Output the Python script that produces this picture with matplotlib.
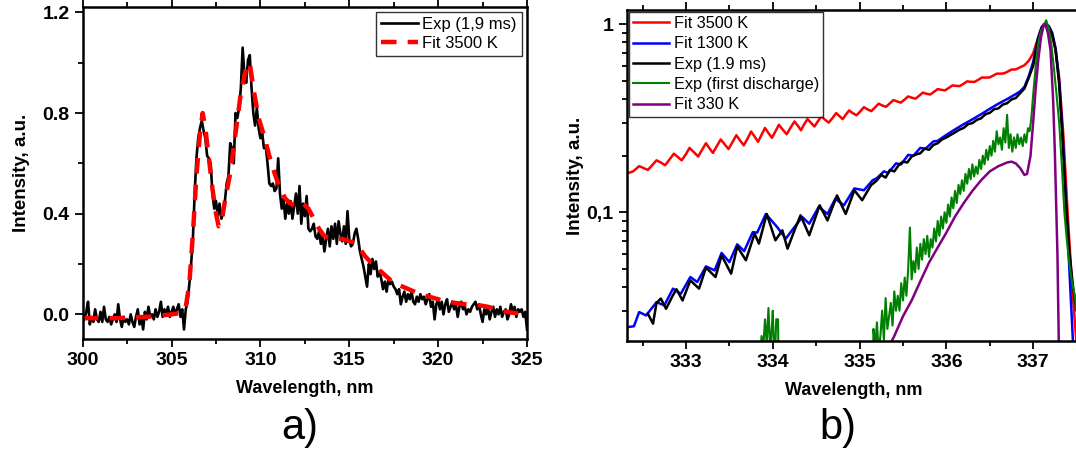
import numpy as np
import matplotlib
matplotlib.use("Agg")
import matplotlib.pyplot as plt
from matplotlib.ticker import MultipleLocator, LogLocator, FixedLocator, FixedFormatter, NullFormatter

plt.rcParams['font.family'] = ['Liberation Sans', 'DejaVu Sans']

# ---- panel a) data ----
exp_a_wl = np.linspace(300, 325, 251)
exp_a_int = [
    0.00, -0.02, 0.01, 0.05, -0.04, -0.01, -0.03, 0.02, -0.02, -0.03,
    0.01, -0.03, 0.03, -0.02, -0.03, -0.01, -0.04, -0.02, 0.00, -0.03,
    0.04, -0.02, -0.05, -0.01, -0.03, -0.02, -0.04, 0.00, -0.03, -0.05,
    -0.01, 0.02, -0.04, -0.01, -0.06, 0.01, -0.02, 0.03, -0.01, 0.00,
    -0.02, 0.02, -0.01, 0.01, 0.05, -0.01, 0.02, 0.00, 0.03, -0.01,
    0.01, 0.03, 0.00, 0.02, 0.04, -0.01, 0.02, -0.06, 0.02, 0.05,
    0.12, 0.20, 0.30, 0.48, 0.62, 0.70, 0.74, 0.77, 0.73, 0.70,
    0.63, 0.62, 0.60, 0.48, 0.42, 0.45, 0.39, 0.44, 0.38, 0.40,
    0.45, 0.52, 0.55, 0.68, 0.66, 0.60, 0.80, 0.78, 0.82, 0.90,
    1.06, 0.95, 0.92, 1.01, 1.03, 0.90, 0.80, 0.75, 0.82, 0.74,
    0.70, 0.72, 0.66, 0.67, 0.60, 0.52, 0.51, 0.52, 0.49, 0.50,
    0.62, 0.48, 0.42, 0.46, 0.38, 0.44, 0.40, 0.45, 0.38, 0.43,
    0.48, 0.40, 0.51, 0.36, 0.44, 0.39, 0.47, 0.34, 0.33, 0.34,
    0.36, 0.31, 0.30, 0.33, 0.28, 0.31, 0.25, 0.30, 0.34, 0.27,
    0.35, 0.30, 0.36, 0.28, 0.37, 0.32, 0.29, 0.35, 0.28, 0.41,
    0.30, 0.27, 0.28, 0.32, 0.34, 0.30, 0.25, 0.22, 0.19, 0.15,
    0.11, 0.20, 0.16, 0.22, 0.18, 0.21, 0.15, 0.17, 0.14, 0.10,
    0.13, 0.09, 0.14, 0.12, 0.13, 0.11, 0.10, 0.08, 0.10, 0.04,
    0.07, 0.09, 0.05, 0.08, 0.06, 0.09, 0.05, 0.04, 0.07, 0.05,
    0.08, 0.06, 0.07, 0.04, 0.06, 0.08, 0.03, 0.05, -0.02, 0.04,
    0.06, 0.02, 0.05, 0.00, 0.04, 0.06, 0.01, 0.03, 0.05, 0.02,
    0.04, -0.01, 0.03, 0.05, 0.02, 0.03, 0.00, 0.02, 0.01, 0.03,
    0.04, 0.05, 0.02, 0.04, 0.00, -0.03, 0.02, 0.00, 0.03, -0.02,
    0.01, 0.03, -0.01, 0.02, 0.00, 0.03, -0.01, 0.01, 0.02, -0.02,
    0.00, 0.04, 0.01, 0.03, -0.01, 0.02, 0.01, 0.02, -0.01, 0.01,
    -0.06,
]

fit_a_wl = [300, 301, 302, 303, 304, 305, 305.5, 305.8, 306.0, 306.2, 306.4, 306.6,
            306.75, 306.9, 307.1, 307.3, 307.5, 307.65, 307.8, 308.0, 308.3, 308.6,
            308.9, 309.2, 309.4, 309.6, 309.9, 310.2, 310.5, 310.8, 311.1, 311.4,
            311.7, 311.9, 312.1, 312.4, 312.7, 313.0, 313.3, 313.6, 313.9, 314.2,
            314.6, 315.0, 315.3, 315.6, 315.9, 316.3, 316.7, 317.1, 317.5, 318.0,
            318.5, 319.0, 319.5, 320.0, 320.5, 321.0, 321.5, 322.0, 322.4, 322.8,
            323.2, 323.6, 324.0, 324.5]
fit_a_int = [-0.015, -0.016, -0.015, -0.012, -0.008, 0.0, 0.005, 0.03, 0.12, 0.32, 0.55, 0.72,
             0.80, 0.74, 0.62, 0.50, 0.40, 0.35, 0.36, 0.45, 0.56, 0.72,
             0.88, 0.98, 1.0, 0.90, 0.78, 0.71, 0.63, 0.56, 0.50, 0.46,
             0.44, 0.43, 0.44, 0.44, 0.42, 0.38, 0.34, 0.31, 0.305, 0.30,
             0.30, 0.29, 0.285, 0.26, 0.23, 0.20, 0.175, 0.15, 0.125, 0.11,
             0.095, 0.08, 0.07, 0.06, 0.05, 0.045, 0.04, 0.038, 0.035, 0.03,
             0.022, 0.014, 0.008, 0.004]

# ---- panel b) data ----
fit3500_wl = [332.32, 332.39, 332.46, 332.51, 332.56, 332.61, 332.66, 332.71, 332.76, 332.81,
              332.86, 332.905, 332.95, 333.0, 333.04, 333.09, 333.14, 333.185, 333.23, 333.27,
              333.31, 333.355, 333.40, 333.445, 333.49, 333.535, 333.58, 333.62, 333.665, 333.71,
              333.75, 333.79, 333.83, 333.87, 333.91, 333.95, 333.99, 334.03, 334.07, 334.115,
              334.16, 334.205, 334.25, 334.29, 334.325, 334.36, 334.40, 334.44, 334.48, 334.52,
              334.56, 334.60, 334.645, 334.69, 334.73, 334.77, 334.805, 334.84, 334.88, 334.92,
              334.965, 335.01, 335.05, 335.09, 335.135, 335.18, 335.22, 335.26, 335.305, 335.35,
              335.39, 335.43, 335.475, 335.52, 335.56, 335.60, 335.645, 335.69, 335.73, 335.77,
              335.815, 335.86, 335.90, 335.94, 335.985, 336.03, 336.07, 336.11, 336.155, 336.2,
              336.24, 336.28, 336.325, 336.37, 336.41, 336.45, 336.495, 336.54, 336.58, 336.62,
              336.665, 336.71, 336.75, 336.80, 336.85, 336.90, 336.95, 337.0, 337.04, 337.08,
              337.12, 337.16, 337.2, 337.25, 337.3, 337.35, 337.4, 337.45, 337.5, 337.55]
fit3500_int = [0.161, 0.165, 0.176, 0.172, 0.168, 0.178, 0.189, 0.184, 0.178, 0.191,
               0.205, 0.197, 0.189, 0.204, 0.220, 0.209, 0.198, 0.215, 0.233, 0.219,
               0.207, 0.225, 0.244, 0.230, 0.217, 0.236, 0.257, 0.242, 0.227, 0.247,
               0.269, 0.253, 0.237, 0.258, 0.281, 0.264, 0.249, 0.269, 0.292, 0.275,
               0.260, 0.282, 0.304, 0.288, 0.273, 0.293, 0.313, 0.299, 0.286, 0.305,
               0.324, 0.311, 0.300, 0.318, 0.337, 0.324, 0.313, 0.330, 0.348, 0.337,
               0.328, 0.345, 0.362, 0.353, 0.345, 0.362, 0.378, 0.370, 0.364, 0.380,
               0.395, 0.389, 0.383, 0.398, 0.413, 0.407, 0.402, 0.418, 0.433, 0.427,
               0.423, 0.438, 0.452, 0.448, 0.445, 0.459, 0.473, 0.470, 0.469, 0.483,
               0.497, 0.494, 0.494, 0.507, 0.521, 0.520, 0.521, 0.533, 0.546, 0.546,
               0.548, 0.561, 0.574, 0.575, 0.590, 0.605, 0.640, 0.700, 0.800, 0.920,
               1.0, 0.99, 0.93, 0.77, 0.52, 0.25, 0.095, 0.04, 0.02, 0.01]

fit1300_wl = [332.32, 332.40, 332.46, 332.54, 332.66, 332.75, 332.85, 332.94, 333.05, 333.13,
              333.23, 333.33, 333.41, 333.5, 333.59, 333.67, 333.77, 333.82, 333.92, 334.05,
              334.15, 334.25, 334.34, 334.42, 334.53, 334.63, 334.72, 334.82, 334.94, 335.05,
              335.15, 335.2, 335.28, 335.33, 335.42, 335.48, 335.56, 335.62, 335.7, 335.76,
              335.85, 335.9, 336.0, 336.1, 336.2, 336.3, 336.4, 336.5, 336.6, 336.7,
              336.8, 336.85, 336.9, 336.95, 337.0, 337.05, 337.1, 337.14, 337.18, 337.22,
              337.26, 337.3, 337.34, 337.38, 337.42, 337.46, 337.5]
fit1300_int = [0.0245, 0.0248, 0.0295, 0.0283, 0.0333, 0.032, 0.0393, 0.0369, 0.0453, 0.0426,
               0.0516, 0.0491, 0.0608, 0.0544, 0.0676, 0.0622, 0.0785, 0.078, 0.098, 0.0835,
               0.0725, 0.0835, 0.0944, 0.087, 0.107, 0.098, 0.118, 0.109, 0.134, 0.131,
               0.148, 0.152, 0.165, 0.162, 0.182, 0.180, 0.202, 0.200, 0.220, 0.218,
               0.238, 0.240, 0.258, 0.276, 0.294, 0.312, 0.332, 0.355, 0.378, 0.400,
               0.425, 0.440, 0.465, 0.530, 0.630, 0.820, 0.970, 1.0, 0.98, 0.90,
               0.74, 0.50, 0.26, 0.11, 0.047, 0.02, 0.01]

exp19_wl = [332.56, 332.62, 332.66, 332.71, 332.77, 332.85, 332.89, 332.96, 333.05, 333.15,
            333.23, 333.34, 333.41, 333.52, 333.59, 333.69, 333.79, 333.84, 333.93, 334.03,
            334.11, 334.17, 334.25, 334.32, 334.42, 334.54, 334.63, 334.74, 334.84, 334.94,
            335.03, 335.13, 335.2, 335.25, 335.3, 335.35, 335.4, 335.45, 335.5, 335.55,
            335.6, 335.65, 335.7, 335.75, 335.8, 335.85, 335.9, 335.95, 336.0, 336.05,
            336.1, 336.15, 336.2, 336.25, 336.3, 336.35, 336.4, 336.45, 336.5, 336.55,
            336.6, 336.65, 336.7, 336.75, 336.8, 336.85, 336.9, 336.95, 337.0, 337.05,
            337.1, 337.14, 337.18, 337.22, 337.26, 337.3, 337.34, 337.38, 337.42, 337.46,
            337.5, 337.55]
exp19_int = [0.0289, 0.0256, 0.033, 0.0348, 0.0307, 0.0363, 0.039, 0.034, 0.0435, 0.0393,
             0.0508, 0.0453, 0.059, 0.0472, 0.0659, 0.0556, 0.077, 0.0682, 0.098, 0.071,
             0.0802, 0.0641, 0.0802, 0.0964, 0.0755, 0.109, 0.0906, 0.123, 0.098, 0.131,
             0.116, 0.139, 0.148, 0.158, 0.153, 0.168, 0.165, 0.178, 0.186, 0.184,
             0.198, 0.203, 0.206, 0.218, 0.215, 0.228, 0.233, 0.244, 0.250, 0.258,
             0.266, 0.275, 0.281, 0.294, 0.298, 0.310, 0.316, 0.332, 0.338, 0.353,
             0.357, 0.374, 0.380, 0.398, 0.405, 0.430, 0.455, 0.520, 0.600, 0.800,
             0.960, 1.0, 0.97, 0.88, 0.72, 0.48, 0.24, 0.11, 0.06, 0.04,
             0.03, 0.028]

exp_first_wl = [333.0, 333.84, 333.87, 333.89, 333.91, 333.93, 333.95, 333.97, 333.99, 334.0,
                334.02, 334.04, 334.06, 334.07, 334.6, 335.15, 335.16, 335.18, 335.2, 335.22,
                335.24, 335.26, 335.28, 335.3, 335.32, 335.34, 335.36, 335.38, 335.4, 335.42,
                335.44, 335.46, 335.48, 335.5, 335.52, 335.54, 335.56, 335.58, 335.6, 335.62,
                335.64, 335.66, 335.68, 335.7, 335.72, 335.74, 335.76, 335.78, 335.8, 335.82,
                335.84, 335.86, 335.88, 335.9, 335.92, 335.94, 335.96, 335.98, 336.0, 336.02,
                336.04, 336.06, 336.08, 336.1, 336.12, 336.14, 336.16, 336.18, 336.2, 336.22,
                336.24, 336.26, 336.28, 336.3, 336.32, 336.34, 336.36, 336.38, 336.4, 336.42,
                336.44, 336.46, 336.48, 336.5, 336.52, 336.54, 336.56, 336.58, 336.6, 336.62,
                336.64, 336.66, 336.68, 336.7, 336.72, 336.74, 336.76, 336.78, 336.8, 336.82,
                336.84, 336.86, 336.88, 336.9, 336.92, 336.94, 336.96, 336.98, 337.0, 337.03,
                337.06, 337.09, 337.12, 337.15, 337.18, 337.21, 337.24, 337.27, 337.3, 337.33,
                337.36, 337.39, 337.42, 337.45, 337.48, 337.5, 337.55]
exp_first_int = [0.008, 0.012, 0.022, 0.019, 0.027, 0.020, 0.031, 0.018, 0.025, 0.030,
                 0.015, 0.027, 0.027, 0.012, 0.008, 0.010, 0.024, 0.019, 0.026, 0.018,
                 0.022, 0.030, 0.021, 0.035, 0.024, 0.028, 0.033, 0.025, 0.038, 0.030,
                 0.036, 0.030, 0.042, 0.034, 0.045, 0.036, 0.050, 0.083, 0.044, 0.055,
                 0.048, 0.065, 0.050, 0.068, 0.056, 0.072, 0.060, 0.075, 0.058, 0.072,
                 0.065, 0.082, 0.070, 0.090, 0.075, 0.095, 0.082, 0.100, 0.088, 0.110,
                 0.095, 0.120, 0.105, 0.130, 0.112, 0.140, 0.125, 0.148, 0.130, 0.160,
                 0.142, 0.170, 0.150, 0.180, 0.155, 0.175, 0.160, 0.190, 0.170, 0.200,
                 0.180, 0.215, 0.190, 0.225, 0.200, 0.240, 0.210, 0.270, 0.230, 0.250,
                 0.215, 0.280, 0.235, 0.330, 0.220, 0.260, 0.210, 0.250, 0.220, 0.260,
                 0.230, 0.250, 0.225, 0.260, 0.235, 0.280, 0.270, 0.320, 0.420, 0.600,
                 0.800, 0.920, 0.980, 1.050, 0.950, 0.780, 0.580, 0.420, 0.300, 0.180,
                 0.100, 0.070, 0.052, 0.042, 0.036, 0.030, 0.030]

fit330_wl = [335.33, 335.4, 335.5, 335.6, 335.7, 335.8, 335.9, 336.0, 336.1, 336.2,
             336.3, 336.4, 336.5, 336.6, 336.7, 336.75, 336.8, 336.85, 336.9, 336.93,
             336.97, 337.0, 337.03, 337.06, 337.09, 337.12, 337.14, 337.17, 337.2, 337.23,
             337.25, 337.28, 337.3]
fit330_int = [0.019, 0.022, 0.028, 0.034, 0.043, 0.054, 0.065, 0.078, 0.095, 0.112,
              0.130, 0.148, 0.165, 0.176, 0.184, 0.186, 0.182, 0.172, 0.158, 0.160,
              0.200, 0.300, 0.460, 0.650, 0.850, 0.980, 1.0, 0.90, 0.73, 0.40,
              0.21, 0.06, 0.015]

W, H = 1076, 450
fig = plt.figure(figsize=(W / 100, H / 100), dpi=100)

tick_kw = dict(direction='out', width=1.3, labelsize=14)

# ---- a) ----
ax1 = fig.add_axes([82.7 / W, 1 - 339 / H, (527 - 82.7) / W, (339 - 7.3) / H])
ax1.plot(exp_a_wl, exp_a_int, color='black', lw=1.9, label='Exp (1,9 ms)')
ax1.plot(fit_a_wl, fit_a_int, color='red', lw=3.2, dashes=(3.5, 2.5), label='Fit 3500 K')
ax1.set_xlim(300, 325)
ax1.set_ylim(-0.098, 1.22)
ax1.xaxis.set_major_locator(MultipleLocator(5))
ax1.xaxis.set_minor_locator(MultipleLocator(2.5))
ax1.yaxis.set_major_locator(MultipleLocator(0.4))
ax1.yaxis.set_minor_locator(MultipleLocator(0.2))
ax1.yaxis.set_major_formatter(plt.FuncFormatter(lambda v, p: f'{v:.1f}'))
ax1.tick_params(which='major', length=6, **tick_kw)
ax1.tick_params(which='minor', length=3.5, direction='out', width=1.3)
ax1.tick_params(which='both', top=True, labeltop=False)
ax1.set_xlabel('Wavelength, nm', fontsize=13, fontweight='bold', labelpad=8)
ax1.set_ylabel('Intensity, a.u.', fontsize=13.5, fontweight='bold', labelpad=9)
for lab in ax1.get_xticklabels() + ax1.get_yticklabels():
    lab.set_fontweight('bold')
for s in ax1.spines.values():
    s.set_linewidth(1.8)
leg1 = ax1.legend(loc='upper right', fontsize=12, handlelength=2.2, fancybox=False,
                  edgecolor='black', borderaxespad=0.3, labelspacing=0.22,
                  handletextpad=0.3, borderpad=0.3)
leg1.get_frame().set_linewidth(1.0)

# ---- b) ----
ax2 = fig.add_axes([627 / W, 1 - 341 / H, (1080 - 627) / W, (341 - 10) / H])
ax2.plot(fit3500_wl, fit3500_int, color='#ff0000', lw=1.8, label='Fit 3500 K')
ax2.plot(fit1300_wl, fit1300_int, color='#0000ff', lw=1.8, label='Fit 1300 K')
ax2.plot(exp19_wl, exp19_int, color='black', lw=1.8, label='Exp (1.9 ms)')
ax2.plot(exp_first_wl, exp_first_int, color='#008000', lw=1.5, label='Exp (first discharge)')
ax2.plot(fit330_wl, fit330_int, color='#800080', lw=1.8, label='Fit 330 K')
ax2.set_yscale('log')
ax2.set_xlim(332.32, 337.54)
ax2.set_ylim(0.0207, 1.19)
ax2.xaxis.set_major_locator(MultipleLocator(1))
ax2.xaxis.set_minor_locator(MultipleLocator(0.5))
ax2.yaxis.set_major_locator(FixedLocator([0.1, 1]))
ax2.yaxis.set_major_formatter(FixedFormatter(['0,1', '1']))
ax2.yaxis.set_minor_locator(LogLocator(base=10, subs=np.arange(2, 10)))
ax2.yaxis.set_minor_formatter(NullFormatter())
ax2.tick_params(which='major', length=6, **tick_kw)
ax2.tick_params(which='minor', length=3.5, direction='out', width=1.3)
ax2.tick_params(which='both', top=True, labeltop=False)
ax2.set_xlabel('Wavelength, nm', fontsize=13, fontweight='bold', labelpad=8)
ax2.set_ylabel('Intensity, a.u.', fontsize=13.5, fontweight='bold', labelpad=2)
for lab in ax2.get_xticklabels() + ax2.get_yticklabels():
    lab.set_fontweight('bold')
for s in ax2.spines.values():
    s.set_linewidth(1.8)
leg2 = ax2.legend(loc='upper left', fontsize=11.7, handlelength=2.2, fancybox=False,
                  edgecolor='black', borderaxespad=0.12, labelspacing=0.33,
                  handletextpad=0.3, borderpad=0.25)
leg2.get_frame().set_linewidth(1.0)

fig.text(300 / W, 1 - 428 / H, 'a)', fontsize=30, ha='center', va='center')
fig.text(838 / W, 1 - 428 / H, 'b)', fontsize=30, ha='center', va='center')

fig.savefig('out.png', dpi=100)
